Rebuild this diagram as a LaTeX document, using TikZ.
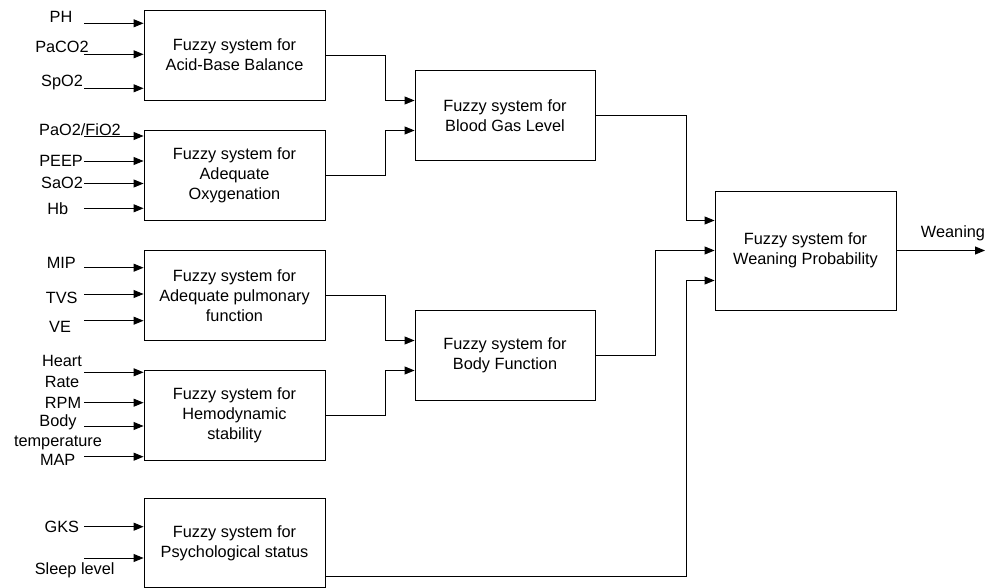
\documentclass[tikz,border=0pt]{standalone}
\usepackage{fontspec}
\setmainfont{Liberation Sans}
\usetikzlibrary{arrows.meta}
\begin{document}
\begin{tikzpicture}[x=1pt,y=-1pt,
  fsbox/.style={draw,line width=0.9pt,minimum width=181pt,minimum height=90pt,align=center,inner sep=0pt,font=\fontsize{16.3}{20}\selectfont},
  lbl/.style={inner sep=0pt,align=center,font=\fontsize{16.3}{20}\selectfont},
  arr/.style={line width=0.9pt,-{Triangle[length=10pt,width=8pt]}},
  conn/.style={line width=0.9pt}]
\useasboundingbox (0,0) rectangle (1002,588);
% boxes
\node[fsbox] (b1) at (234.5,55) {Fuzzy system for\\Acid-Base Balance};
\node[fsbox] (b2) at (234.5,175) {Fuzzy system for\\Adequate\\Oxygenation};
\node[fsbox] (b3) at (234.5,295.5) {Fuzzy system for\\Adequate pulmonary\\function};
\node[fsbox] (b4) at (234.5,415.5) {Fuzzy system for\\Hemodynamic\\stability};
\node[fsbox,minimum height=89pt] (b5) at (234.5,543) {\raisebox{0pt}{Fuzzy system for}\\Psychological status};
\node[fsbox,minimum width=180pt] (bg) at (505,115.5) {Fuzzy system for\\Blood Gas Level};
\node[fsbox,minimum width=180pt] (bf) at (505,355.5) {Fuzzy system for\\Body Function};
\node[fsbox,minimum height=119pt] (wp) at (805.5,250.5) {Fuzzy system for\\Weaning Probability};
% input labels
\node[lbl] (lPH) at (61,17) {PH};
\node[lbl] (lPaCO2) at (62,46.5) {PaCO2};
\node[lbl] (lSpO2) at (62,83) {SpO2};
\node[lbl] (lPaO2) at (80,130) {PaO2/FiO2};
\node[lbl] (lPEEP) at (61,160.7) {PEEP};
\node[lbl] (lSaO2) at (62,183) {SaO2};
\node[lbl] (lHb) at (57.7,208.3) {Hb};
\node[lbl] (lMIP) at (61.3,263) {MIP};
\node[lbl] (lTVS) at (61.7,297.5) {TVS};
\node[lbl] (lVE) at (60,327) {VE};
\node[lbl] (lHeart) at (62,360.7) {Heart};
\node[lbl] (lRate) at (62,381.7) {Rate};
\node[lbl] (lRPM) at (63,403) {RPM};
\node[lbl] (lBody) at (58,422.7) {Body};
\node[lbl] (ltemp) at (58,443.3) {temperature};
\node[lbl] (lMAP) at (57.7,460) {MAP};
\node[lbl] (lGKS) at (61.8,526.7) {GKS};
\node[lbl] (lSleep) at (74.7,570.7) {Sleep level};
\node[lbl] (lWean) at (953,233) {Weaning};
% input arrow starts
\coordinate (i1) at (84,23.3);
\coordinate (i2) at (84,54.3);
\coordinate (i3) at (84,88.3);
\coordinate (i4) at (84,136);
\coordinate (i5) at (84,161);
\coordinate (i6) at (84,183.5);
\coordinate (i7) at (84,208.3);
\coordinate (i8) at (84,267.7);
\coordinate (i9) at (84,294);
\coordinate (i10) at (84,320.7);
\coordinate (i11) at (84,372.3);
\coordinate (i12) at (84,402.7);
\coordinate (i13) at (84,426);
\coordinate (i14) at (84,456.7);
\coordinate (i15) at (84,526.7);
\coordinate (i16) at (84,558);
\draw[arr] (i1) -- (i1 -| b1.west);
\draw[arr] (i2) -- (i2 -| b1.west);
\draw[arr] (i3) -- (i3 -| b1.west);
\draw[arr] (i4) -- (i4 -| b2.west);
\draw[arr] (i5) -- (i5 -| b2.west);
\draw[arr] (i6) -- (i6 -| b2.west);
\draw[arr] (i7) -- (i7 -| b2.west);
\draw[arr] (i8) -- (i8 -| b3.west);
\draw[arr] (i9) -- (i9 -| b3.west);
\draw[arr] (i10) -- (i10 -| b3.west);
\draw[arr] (i11) -- (i11 -| b4.west);
\draw[arr] (i12) -- (i12 -| b4.west);
\draw[arr] (i13) -- (i13 -| b4.west);
\draw[arr] (i14) -- (i14 -| b4.west);
\draw[arr] (i15) -- (i15 -| b5.west);
\draw[arr] (i16) -- (i16 -| b5.west);
% second-level inputs
\coordinate (bgin1) at ([yshift=15pt]bg.west);
\coordinate (bgin2) at ([yshift=-15pt]bg.west);
\coordinate (bfin1) at ([yshift=15pt]bf.west);
\coordinate (bfin2) at ([yshift=-15pt]bf.west);
\coordinate (wpin1) at ([yshift=30pt]wp.west);
\coordinate (wpin2) at (wp.west);
\coordinate (wpin3) at ([yshift=-30pt]wp.west);
\coordinate (b5out) at ([yshift=-33pt]b5.east);
\coordinate (wout) at (985,250.5);
\draw[arr] (b1.east) -- ++(59.5,0) |- (bgin1);
\draw[arr] (b2.east) -- ++(59.5,0) |- (bgin2);
\draw[arr] (b3.east) -- ++(59.5,0) |- (bfin1);
\draw[arr] (b4.east) -- ++(59.5,0) |- (bfin2);
\draw[arr] (bg.east) -- ++(90.5,0) |- (wpin1);
\draw[arr] (bf.east) -- ++(60,0) |- (wpin2);
\draw[arr] (b5out) -- ++(361,0) |- (wpin3);
\draw[arr] (wp.east) -- (wout);
\end{tikzpicture}
\end{document}
